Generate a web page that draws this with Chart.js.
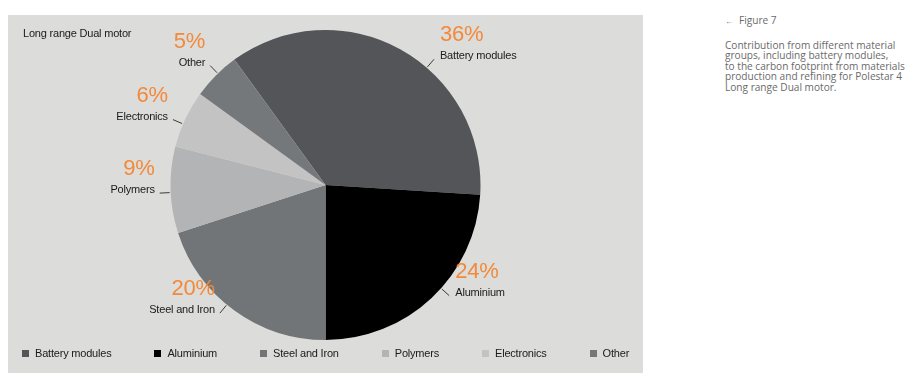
<!DOCTYPE html>
<html>
<head>
<meta charset="utf-8">
<script src="https://cdn.jsdelivr.net/npm/chart.js@4"></script>
<style>
  html, body { margin: 0; padding: 0; background: #fff; }
  body { width: 914px; height: 382px; position: relative; overflow: hidden;
         font-family: "Liberation Sans", Arial, sans-serif; }
  #panel { position: absolute; left: 8px; top: 15px; width: 635px; height: 358px; background: #dcdcda; }
  #panel canvas { position: absolute; left: 0; top: 0; }
  #legend { position: absolute; left: 14px; top: 332px; display: flex; gap: 43px; white-space: nowrap;
            font-size: 11px; letter-spacing: -0.2px; color: #1a1a1a; width: 640px; }
  #legend .item { display: flex; align-items: center; flex: none; }
  #legend .box { width: 7px; height: 7px; margin-right: 6px; }
  #note { position: absolute; left: 725px; top: 15px; color: #6a6a6a; font-family: "Open Sans", "Liberation Sans", sans-serif;
          font-size: 10.1px; line-height: 10.6px; letter-spacing: 0; white-space: nowrap; }
  #note .fig { margin-bottom: 13px; }
  #note .arrow { font-size: 8px; margin-right: 6px; }
</style>
</head>
<body>
<div id="panel">
  <canvas id="pieChart" width="635" height="358"></canvas>
  <div id="legend"></div>
</div>
<div id="note">
  <div class="fig"><span class="arrow">&larr;</span>Figure 7</div>
  <div>Contribution from different material<br>groups, including battery modules,<br>to the carbon footprint from materials<br>production and refining for Polestar 4<br>Long range Dual motor.</div>
</div>
<script>
const categories = ['Battery modules', 'Aluminium', 'Steel and Iron', 'Polymers', 'Electronics', 'Other'];
const shares = [36, 24, 20, 9, 6, 5];
const sliceColors = ['#535559', '#000000', '#727578', '#b3b4b5', '#c3c3c3', '#75787b'];

// small angle nudges (degrees) so the callouts sit where the original has them
const leaderNudge = [12, -5, 3.5, -1, -2, 1];

const calloutLabels = {
  id: 'calloutLabels',
  afterDraw(chart) {
    const ctx = chart.ctx;
    const meta = chart.getDatasetMeta(0);
    ctx.save();
    ctx.letterSpacing = '-0.2px';

    // chart title, top left
    ctx.font = '11px "Liberation Sans", Arial, sans-serif';
    ctx.fillStyle = '#1a1a1a';
    ctx.textAlign = 'left';
    ctx.textBaseline = 'middle';
    ctx.fillText('Long range Dual motor', 15, 19);

    meta.data.forEach((arc, i) => {
      const { x, y, startAngle, endAngle, outerRadius } = arc.getProps(['x', 'y', 'startAngle', 'endAngle', 'outerRadius'], true);
      const mid = (startAngle + endAngle) / 2 + leaderNudge[i] * Math.PI / 180;
      const cos = Math.cos(mid), sin = Math.sin(mid);
      const x1 = x + (outerRadius + 1) * cos, y1 = y + (outerRadius + 1) * sin;
      const x2 = x + (outerRadius + 11) * cos, y2 = y + (outerRadius + 11) * sin;

      ctx.strokeStyle = '#3a3a3a';
      ctx.lineWidth = 1;
      ctx.beginPath();
      ctx.moveTo(x1, y1);
      ctx.lineTo(x2, y2);
      ctx.stroke();

      const right = cos > 0;
      const tx = right ? x2 + 6 : x2 - 5;
      const nameY = y2 - 3;
      ctx.textAlign = right ? 'left' : 'right';
      ctx.textBaseline = 'middle';

      ctx.font = '11px "Liberation Sans", Arial, sans-serif';
      ctx.fillStyle = '#1a1a1a';
      ctx.fillText(categories[i], tx, nameY);

      ctx.font = '22px "Liberation Sans", Arial, sans-serif';
      ctx.fillStyle = '#f3893a';
      ctx.fillText(shares[i] + '%', tx, nameY - 21);
    });
    ctx.restore();
  }
};

const chart = new Chart(document.getElementById('pieChart'), {
  type: 'pie',
  data: {
    labels: categories,
    datasets: [{
      data: shares,
      backgroundColor: sliceColors,
      borderWidth: 0,
      hoverOffset: 0
    }]
  },
  options: {
    responsive: false,
    animation: false,
    rotation: -36,
    layout: { padding: { top: 15, bottom: 33, left: 0, right: 0 } },
    plugins: {
      legend: { display: false },
      tooltip: { enabled: false }
    }
  },
  plugins: [calloutLabels]
});

// html legend built from the chart data
const legendEl = document.getElementById('legend');
chart.data.labels.forEach((label, i) => {
  const item = document.createElement('div');
  item.className = 'item';
  const box = document.createElement('span');
  box.className = 'box';
  box.style.background = chart.data.datasets[0].backgroundColor[i];
  const text = document.createElement('span');
  text.textContent = label;
  item.appendChild(box);
  item.appendChild(text);
  legendEl.appendChild(item);
});
</script>
</body>
</html>
